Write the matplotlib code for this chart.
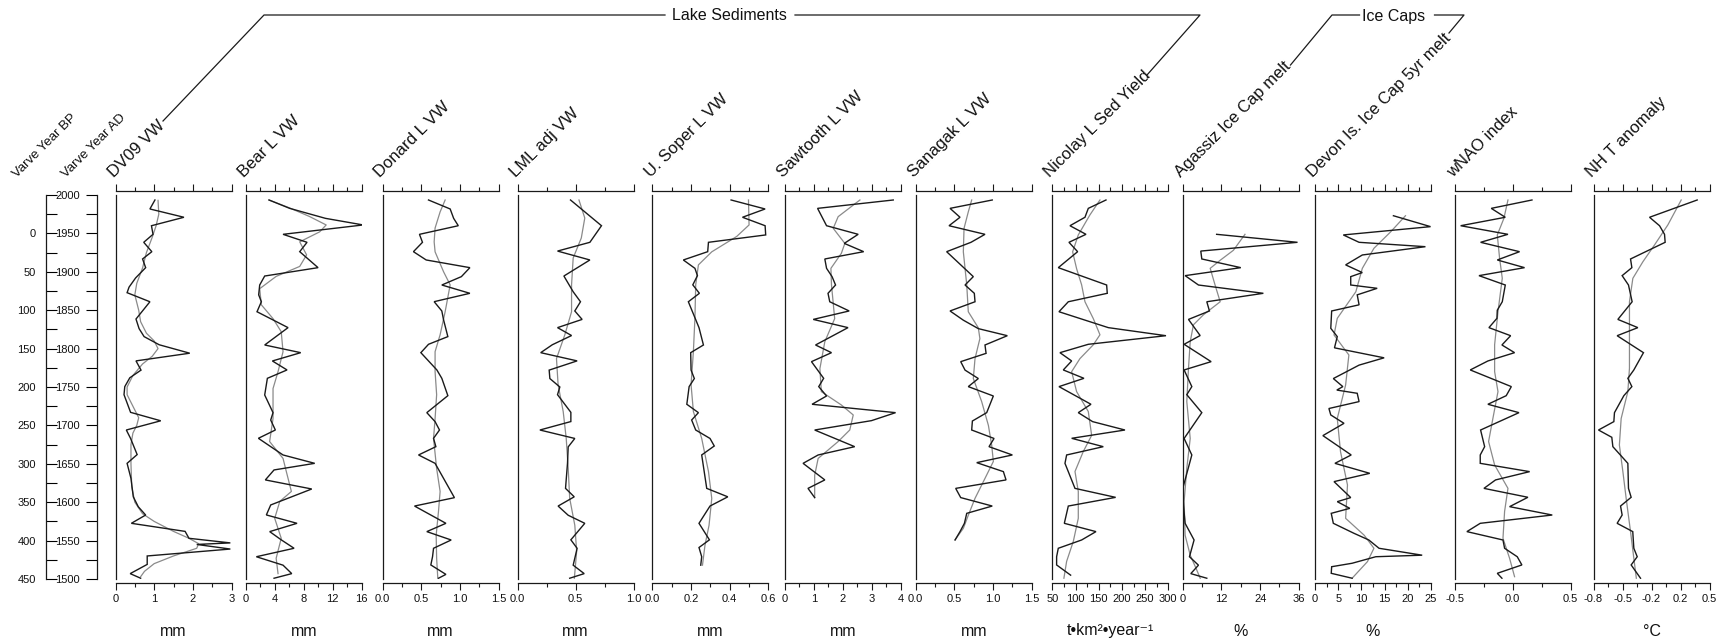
import matplotlib
matplotlib.use('Agg')
import matplotlib.pyplot as plt
from matplotlib.ticker import FixedLocator, FixedFormatter
from matplotlib.lines import Line2D

plt.rcParams['font.family'] = ['Liberation Sans', 'DejaVu Sans']

# ---------------- data ----------------
titles = ["DV09 VW", "Bear L VW", "Donard L VW", "LML adj VW", "U. Soper L VW",
          "Sawtooth L VW", "Sanagak L VW", "Nicolay L Sed Yield",
          "Agassiz Ice Cap melt", "Devon Is. Ice Cap 5yr melt", "wNAO index", "NH T anomaly"]
units = ["mm", "mm", "mm", "mm", "mm", "mm", "mm", "t\u2022km\u00b2\u2022year\u207b\u00b9", "%", "%", "", "\u00b0C"]

xlims = [(0, 3), (0, 16), (0, 1.5), (0, 1.0), (0, 0.6), (0, 4), (0, 1.5), (50, 300),
         (0, 36), (0, 25), (-0.5, 0.5), (-0.8, 0.5)]
major_ticks = [[0, 1, 2, 3], [0, 4, 8, 12, 16], [0, 0.5, 1.0, 1.5], [0, 0.5, 1.0],
               [0, 0.2, 0.4, 0.6], [0, 1, 2, 3, 4], [0, 0.5, 1.0, 1.5],
               [50, 100, 150, 200, 250, 300], [0, 12, 24, 36], [0, 5, 10, 15, 20, 25],
               [-0.5, 0.0, 0.5], [-0.8, -0.475, -0.15, 0.175, 0.5]]
tick_labels = [["0", "1", "2", "3"], ["0", "4", "8", "12", "16"], ["0.0", "0.5", "1.0", "1.5"],
               ["0.0", "0.5", "1.0"], ["0.0", "0.2", "0.4", "0.6"], ["0", "1", "2", "3", "4"],
               ["0.0", "0.5", "1.0", "1.5"], ["50", "100", "150", "200", "250", "300"],
               ["0", "12", "24", "36"], ["0", "5", "10", "15", "20", "25"],
               ["-0.5", "0.0", "0.5"], ["-0.8", "-0.5", "-0.2", "0.2", "0.5"]]
minor_ticks = [[0.5, 1.5, 2.5], [2, 6, 10, 14], [0.25, 0.75, 1.25], [0.25, 0.75],
               [0.1, 0.3, 0.5], [0.5, 1.5, 2.5, 3.5], [0.25, 0.75, 1.25],
               [75, 125, 175, 225, 275], [6, 18, 30], [2.5, 7.5, 12.5, 17.5, 22.5],
               [-0.25, 0.25], [-0.6375, -0.3125, 0.0125, 0.3375]]

dv09_year = [1993.5, 1981.8, 1971, 1960, 1948.8, 1938.4, 1926.2, 1916.7, 1905.4, 1892, 1880, 1872.8, 1861,
             1838.5, 1826, 1815.6, 1805, 1794, 1784, 1772, 1762, 1750.5, 1740, 1717, 1706, 1694, 1683,
             1662, 1650.6, 1631, 1607, 1594, 1583.3, 1572.5, 1562, 1553, 1547, 1545, 1539, 1530, 1519,
             1507, 1501]
dv09_raw = [1.02, 0.89, 1.77, 0.93, 0.97, 0.73, 0.94, 0.70, 0.78, 0.52, 0.35, 0.30, 0.89,
            0.53, 0.61, 0.74, 1.13, 1.92, 0.53, 0.66, 0.37, 0.24, 0.22, 0.39, 1.17, 0.28, 0.39,
            0.56, 0.30, 0.40, 0.46, 0.59, 0.78, 0.41, 1.80, 1.90, 2.97, 2.10, 2.97, 0.82, 0.82,
            0.38, 0.65]
dv09_syear = [1993, 1975, 1960, 1945, 1925, 1905, 1885, 1870, 1850, 1835, 1820, 1810, 1800, 1790, 1780,
              1765, 1750, 1740, 1725, 1710, 1700, 1690, 1675, 1650, 1620, 1600, 1585, 1575, 1562, 1553,
              1546, 1540, 1530, 1520, 1510, 1503]
dv09_smooth = [1.10, 1.12, 1.05, 0.95, 0.80, 0.70, 0.55, 0.50, 0.60, 0.65, 0.80, 1.00, 1.10, 0.95, 0.70,
               0.45, 0.30, 0.30, 0.45, 0.60, 0.55, 0.45, 0.40, 0.40, 0.42, 0.50, 0.70, 1.00, 1.50, 1.90,
               2.15, 2.10, 1.50, 1.00, 0.75, 0.65]

bear_year = [1993.5, 1982.6, 1969.6, 1961, 1948.8, 1938.4, 1926.2, 1905.4, 1894.5, 1882.8, 1870, 1861,
             1848, 1827.3, 1804.7, 1794.7, 1783.9, 1772.2, 1761.3, 1739.6, 1716.6, 1707, 1694, 1683.2,
             1661.5, 1650.6, 1642, 1629, 1617.2, 1596.4, 1583.4, 1572.5, 1561.7, 1551, 1540, 1529, 1518,
             1507, 1501]
bear_raw = [3.22, 6.07, 11.0, 16.2, 5.15, 8.46, 7.45, 9.98, 2.62, 1.93, 1.79, 2.16, 1.56, 5.84, 2.62,
            7.59, 3.68, 5.70, 2.99, 2.62, 3.77, 3.45, 4.09, 1.75, 5.15, 9.52, 3.91, 2.71, 9.11, 3.45,
            2.85, 7.08, 3.31, 4.9, 6.67, 1.47, 5.15, 6.35, 3.91]
bear_syear = [1993.5, 1983, 1972, 1961, 1952, 1939, 1922, 1907, 1894, 1878, 1857, 1839, 1822, 1796,
              1770, 1748, 1709, 1679, 1657, 1640, 1614, 1601, 1579, 1553, 1527, 1507]
bear_smooth = [3.2, 6.1, 8.8, 11.1, 10.2, 7.45, 8.4, 7.45, 4.2, 1.93, 2.16, 3.77, 4.9, 5.15, 4.46,
               3.77, 3.77, 3.3, 5.15, 5.6, 6.3, 4.7, 4.0, 4.9, 4.2, 4.46]

donard_year = [1993.5, 1981.8, 1969.6, 1960, 1948.8, 1938.4, 1926.2, 1915.4, 1905.4, 1893.7, 1882.8,
               1872, 1861.1, 1849, 1837.3, 1815.6, 1805.6, 1794.7, 1772.2, 1761.3, 1738.7, 1716.6,
               1704.9, 1694, 1683.2, 1672.3, 1661.5, 1650.6, 1605.9, 1595, 1572.5, 1561.7, 1550.8,
               1540, 1529, 1518.3, 1506, 1501]
donard_raw = [0.595, 0.875, 0.92, 0.98, 0.478, 0.517, 0.40, 0.565, 1.13, 1.02, 0.767, 1.13, 0.668,
              0.767, 0.79, 0.845, 0.595, 0.496, 0.703, 0.767, 0.845, 0.573, 0.68, 0.737, 0.66, 0.69,
              0.466, 0.68, 0.93, 0.414, 0.82, 0.573, 0.888, 0.66, 0.647, 0.625, 0.82, 0.724]
donard_syear = [1993.5, 1978, 1957, 1939, 1926, 1900, 1883, 1848, 1818, 1796, 1770, 1740, 1709, 1683,
                1644, 1614, 1588, 1557, 1527, 1501]
donard_smooth = [0.81, 0.745, 0.68, 0.668, 0.68, 0.79, 0.875, 0.81, 0.745, 0.68, 0.68, 0.70, 0.68,
                 0.66, 0.70, 0.745, 0.724, 0.694, 0.70, 0.715]

lml_year = [1993.5, 1960, 1938.4, 1927, 1915.4, 1894.5, 1874, 1861, 1849, 1838, 1827.3, 1817, 1805,
            1794.7, 1784, 1772, 1761, 1750, 1740, 1717, 1705, 1694, 1683, 1672, 1650.6, 1618, 1607,
            1595, 1583, 1572.5, 1551, 1540, 1518, 1507, 1501]
lml_raw = [0.457, 0.724, 0.624, 0.345, 0.624, 0.40, 0.48, 0.543, 0.494, 0.557, 0.345, 0.466, 0.30,
           0.20, 0.514, 0.273, 0.279, 0.365, 0.345, 0.46, 0.46, 0.193, 0.494, 0.437, 0.431, 0.414,
           0.489, 0.35, 0.437, 0.58, 0.46, 0.514, 0.48, 0.575, 0.45]
lml_syear = [1993.5, 1970, 1944, 1918, 1883, 1848, 1818, 1787, 1753, 1718, 1683, 1644, 1605, 1570,
             1536, 1501]
lml_smooth = [0.53, 0.58, 0.55, 0.48, 0.466, 0.466, 0.408, 0.336, 0.35, 0.394, 0.42, 0.437, 0.45,
              0.494, 0.51, 0.49]

soper_year = [1993.5, 1981.8, 1971, 1960, 1948, 1938.4, 1926.2, 1915.4, 1904.5, 1895, 1883, 1872,
              1861, 1827.3, 1804.7, 1794.7, 1772, 1761, 1750.5, 1727.5, 1716.6, 1707, 1694, 1683,
              1673.2, 1661.5, 1618, 1607, 1595, 1572.5, 1551, 1541, 1529, 1518]
soper_raw = [0.407, 0.583, 0.466, 0.583, 0.586, 0.29, 0.286, 0.16, 0.22, 0.233, 0.209, 0.243, 0.186,
             0.241, 0.264, 0.198, 0.20, 0.217, 0.19, 0.178, 0.238, 0.203, 0.224, 0.298, 0.32, 0.255,
             0.281, 0.39, 0.298, 0.241, 0.295, 0.241, 0.255, 0.25]
soper_syear = [1993.5, 1961, 1946, 1926, 1909, 1883, 1840, 1796, 1753, 1718, 1683, 1640, 1605, 1570,
               1544, 1518]
soper_smooth = [0.497, 0.50, 0.436, 0.307, 0.238, 0.224, 0.22, 0.212, 0.20, 0.212, 0.255, 0.29, 0.307,
                0.293, 0.272, 0.259]

saw_year = [1993.5, 1982.6, 1960, 1948.8, 1937, 1926.2, 1916.7, 1904.5, 1893.7, 1882.8, 1872, 1861,
            1849, 1838, 1827.3, 1804.7, 1794.7, 1783, 1761.3, 1750.5, 1738.3, 1727.5, 1716.6, 1706.2,
            1694, 1672.3, 1661.5, 1650.6, 1629, 1618, 1606]
saw_raw = [3.74, 1.13, 1.44, 2.53, 2.05, 2.72, 1.38, 1.44, 1.63, 1.75, 1.49, 1.55, 2.22, 0.98, 2.18,
           1.06, 1.61, 0.92, 1.34, 1.17, 1.44, 0.94, 3.82, 2.99, 1.03, 2.41, 1.15, 0.63, 1.38, 0.80,
           1.03]
saw_syear = [1993.5, 1971.8, 1956.6, 1937, 1924, 1904.5, 1883, 1839, 1809, 1774, 1744, 1726.6,
             1713.6, 1694, 1679, 1657, 1635, 1606]
saw_smooth = [2.59, 1.84, 1.67, 2.07, 1.95, 1.59, 1.61, 1.72, 1.38, 1.21, 1.26, 1.95, 2.36, 2.24,
              1.84, 1.15, 1.03, 1.03]

sana_year = [1993.5, 1982.6, 1971, 1960, 1948.8, 1938.4, 1926.2, 1893.7, 1882.8, 1872, 1861, 1849,
             1837, 1826, 1816.8, 1804.7, 1793.8, 1783, 1772, 1761, 1750.5, 1738.3, 1716.6, 1705.7,
             1694, 1683, 1672.3, 1661.5, 1651.5, 1639.8, 1629, 1618, 1606, 1595, 1585.5, 1572.5,
             1561.7, 1550.8]
sana_raw = [0.99, 0.444, 0.573, 0.431, 0.896, 0.715, 0.40, 0.745, 0.638, 0.758, 0.767, 0.444, 0.616,
            0.81, 1.185, 0.896, 0.91, 0.582, 0.638, 0.81, 0.68, 1.004, 0.918, 0.733, 0.724, 1.013,
            0.948, 1.25, 0.789, 1.134, 1.168, 0.517, 0.582, 0.99, 0.66, 0.63, 0.573, 0.509]
sana_syear = [1993.5, 1978, 1956.6, 1926, 1883, 1848, 1827, 1813, 1787, 1761, 1731, 1700, 1674, 1653,
              1631, 1605, 1583, 1566, 1551]
sana_smooth = [0.724, 0.68, 0.625, 0.616, 0.66, 0.68, 0.81, 0.83, 0.767, 0.745, 0.853, 0.94, 0.983,
               1.004, 0.896, 0.767, 0.68, 0.616, 0.509]

nico_year = [1993.5, 1982.6, 1971, 1960, 1948.8, 1938.4, 1926.2, 1905.4, 1882.8, 1872, 1861, 1848,
             1827.3, 1816.8, 1805.6, 1794.7, 1783.9, 1772.2, 1761.3, 1750.5, 1727.5, 1716.6, 1704.9,
             1694, 1683.2, 1672.3, 1661.5, 1650.6, 1618, 1606.3, 1595, 1572.5, 1561.7, 1550.8, 1540,
             1529, 1518.3, 1505]
nico_raw = [165.7, 127.6, 120.4, 88.1, 122.6, 85.9, 104.6, 62.9, 167.1, 168.5, 84.5, 64.4, 170.7,
            295, 127.6, 66.5, 91.7, 73.7, 118.2, 64.4, 133.3, 106, 136.9, 206.6, 91.7, 159.9, 80.9,
            77.3, 98.9, 186.5, 84.5, 75.9, 144.1, 113.2, 62.9, 59.3, 59.3, 89.5]
nico_syear = [1993.5, 1974, 1948, 1926, 1904, 1883, 1861, 1839, 1818, 1805, 1787, 1770, 1744, 1718,
              1687, 1666, 1640, 1614, 1579, 1549, 1523, 1501]
nico_smooth = [152.7, 131, 106, 93.8, 102.4, 113.2, 120.4, 138.4, 152.7, 138.4, 109.6, 91.7, 102.4,
               127.6, 134.8, 116.8, 98.9, 106, 106, 95.3, 80.9, 75]

agas_year = [1948.8, 1938.4, 1927, 1916.7, 1905.4, 1895, 1882.8, 1872, 1861, 1849, 1838, 1817,
             1805.6, 1783, 1772.2, 1750.5, 1740, 1716.6, 1683, 1661.5, 1618, 1596, 1572.5, 1550.8,
             1529, 1518, 1507, 1501]
agas_raw = [10.5, 35.6, 5.58, 5.9, 18.0, 0.72, 4.86, 25.0, 7.45, 8.27, 1.76, 5.38, 0.41, 8.79, 0.41,
            2.8, 1.24, 5.9, 0.41, 2.8, 0.0, 0.2, 0.72, 3.5, 2.07, 4.86, 2.48, 7.45]
agas_syear = [1948.8, 1928, 1915, 1904.5, 1883, 1861, 1844, 1831, 1809, 1774, 1731, 1683, 1644, 1601,
              1557, 1531, 1514, 1501]
agas_smooth = [19.3, 15.7, 11.6, 8.5, 10.0, 11.6, 6.4, 3.3, 2.3, 1.76, 1.24, 2.3, 1.24, 0.41, 0.72,
               2.3, 4.1, 5.4]

devon_year = [1973, 1958.8, 1948, 1938.4, 1932.7, 1921.9, 1909, 1899, 1893.7, 1882.8, 1878.5, 1870,
              1857, 1849, 1826.4, 1815.6, 1801, 1788, 1778.5, 1761, 1750.5, 1746, 1741.8, 1731, 1722,
              1713.6, 1702.7, 1686.7, 1661.5, 1650.6, 1637.6, 1626.8, 1606, 1600.7, 1592, 1585.5,
              1572.5, 1559.5, 1550.8, 1540, 1531, 1529, 1520.5, 1516, 1507.4, 1501]
devon_raw = [16.9, 24.9, 6.1, 9.5, 23.8, 10.2, 6.6, 10.2, 7.7, 7.7, 13.4, 9.1, 9.5, 3.59, 3.4, 4.8,
             4.2, 14.9, 9.5, 3.95, 6.0, 4.7, 9.1, 9.5, 3.0, 3.4, 6.25, 1.7, 7.8, 4.3, 11.8, 4.1, 7.7,
             4.8, 7.5, 3.5, 3.95, 8.4, 11.6, 13.8, 23.1, 13.1, 8.0, 3.59, 3.5, 8.0]
devon_syear = [1973, 1952, 1930.6, 1904.5, 1874, 1839.4, 1817.7, 1791.7, 1752.6, 1709, 1665.8, 1622.4,
               1579, 1557, 1540, 1522.6, 1501]
devon_smooth = [19.5, 16.3, 12.7, 10.2, 8.8, 4.8, 4.1, 7.3, 6.6, 4.8, 5.5, 7.0, 6.6, 10.6, 12.7, 11.3,
                8.0]

nao_year = [1993.5, 1982.6, 1971, 1960, 1948.8, 1938.4, 1926.2, 1915.4, 1905.4, 1895, 1882.8, 1861,
            1850, 1839.4, 1827.3, 1816.8, 1804.7, 1794.7, 1783.9, 1772.2, 1750.5, 1738.7, 1727.5,
            1716.6, 1694, 1672.3, 1661.5, 1650.6, 1639.8, 1629, 1618, 1606.4, 1594.2, 1583.3, 1572.5,
            1561.7, 1550.8, 1540, 1529, 1518.3, 1507.4, 1501]
nao_raw = [0.167, -0.184, -0.063, -0.448, -0.04, -0.276, 0.06, -0.132, 0.103, -0.29, -0.063, -0.089,
           -0.132, -0.135, -0.204, -0.017, -0.092, 0.017, -0.213, -0.365, -0.011, -0.055, -0.213,
           0.055, -0.276, -0.241, -0.279, -0.279, 0.147, -0.147, -0.247, 0.132, -0.026, 0.342,
           -0.279, -0.394, -0.083, -0.069, 0.04, 0.08, -0.132, -0.092]
nao_syear = [1993.5, 1969.6, 1948, 1917.5, 1891.5, 1848, 1805, 1770, 1744, 1709, 1679, 1648.5, 1618,
             1588, 1553, 1527, 1503]
nao_smooth = [-0.04, -0.075, -0.132, -0.112, -0.089, -0.126, -0.155, -0.155, -0.126, -0.17, -0.207,
              -0.155, -0.04, -0.069, -0.083, -0.026, 0.017]

nht_year = [1993.5, 1971, 1960, 1948.8, 1938.4, 1916.7, 1905.4, 1895, 1882.8, 1861, 1838, 1827.3,
            1816.8, 1794.7, 1772.2, 1761.3, 1750.5, 1738.7, 1716.6, 1704.9, 1694, 1684.5, 1672.3,
            1650.6, 1618, 1606.4, 1595, 1583.3, 1572.5, 1561.7, 1540, 1529, 1518.3, 1501]
nht_raw = [0.362, -0.172, -0.06, -0.004, 0.003, -0.385, -0.37, -0.479, -0.408, -0.367, -0.527,
           -0.303, -0.535, -0.24, -0.348, -0.415, -0.37, -0.46, -0.565, -0.572, -0.744, -0.595,
           -0.583, -0.415, -0.408, -0.378, -0.497, -0.479, -0.535, -0.36, -0.348, -0.31, -0.378,
           -0.273]
nht_syear = [1993.5, 1961, 1935, 1913, 1891.5, 1861, 1818, 1774.5, 1744, 1709, 1674.5, 1640, 1605,
             1561.7, 1527, 1501]
nht_smooth = [0.183, 0.033, -0.116, -0.247, -0.359, -0.397, -0.397, -0.397, -0.415, -0.49, -0.51,
              -0.471, -0.434, -0.385, -0.348, -0.32]

raw_series = [(dv09_year, dv09_raw), (bear_year, bear_raw), (donard_year, donard_raw),
              (lml_year, lml_raw), (soper_year, soper_raw), (saw_year, saw_raw),
              (sana_year, sana_raw), (nico_year, nico_raw), (agas_year, agas_raw),
              (devon_year, devon_raw), (nao_year, nao_raw), (nht_year, nht_raw)]
smooth_series = [(dv09_syear, dv09_smooth), (bear_syear, bear_smooth), (donard_syear, donard_smooth),
                 (lml_syear, lml_smooth), (soper_syear, soper_smooth), (saw_syear, saw_smooth),
                 (sana_syear, sana_smooth), (nico_syear, nico_smooth), (agas_syear, agas_smooth),
                 (devon_syear, devon_smooth), (nao_syear, nao_smooth), (nht_syear, nht_smooth)]

ad_major = [1500, 1550, 1600, 1650, 1700, 1750, 1800, 1850, 1900, 1950, 2000]
ad_minor = [1525, 1575, 1625, 1675, 1725, 1775, 1825, 1875, 1925, 1975]
bp_major = [1500, 1550, 1600, 1650, 1700, 1750, 1800, 1850, 1900, 1950]
bp_labels = ["450", "400", "350", "300", "250", "200", "150", "100", "50", "0"]
bp_minor = [1525, 1575, 1625, 1675, 1725, 1775, 1825, 1875, 1925, 1975, 2000]

# ---------------- layout ----------------
W, H = 1722, 639
fig = plt.figure(figsize=(W / 100, H / 100), dpi=100)


def fx(px):
    return px / W


def fy(py):
    return 1 - py / H


TOP, BOT = 195, 579
PW = 116
lefts = [115.5, 245.7, 382.5, 517.5, 652.4, 784.8, 915.7, 1052.3, 1182.8, 1315.0, 1454.6, 1593.5]
AX_H = (BOT - TOP) / H
TXT = '#111111'

for i in range(12):
    ax = fig.add_axes([fx(lefts[i]), fy(BOT), fx(PW), AX_H])
    ax.patch.set_visible(False)
    ax.set_xlim(*xlims[i])
    ax.set_ylim(1500, 2000)
    sy, sv = smooth_series[i]
    ry, rv = raw_series[i]
    ax.plot(sv, sy, color='#8a8a8a', lw=0.9, solid_joinstyle='round')
    ax.plot(rv, ry, color='#1a1a1a', lw=1.0, solid_joinstyle='miter')
    ax.spines['right'].set_visible(False)
    ax.spines['top'].set_position(('outward', 3))
    ax.spines['bottom'].set_position(('outward', 3))
    for s in ['left', 'top', 'bottom']:
        ax.spines[s].set_linewidth(0.9)
        ax.spines[s].set_color('#1a1a1a')
    ax.set_yticks([])
    ax.xaxis.set_major_locator(FixedLocator(major_ticks[i]))
    ax.xaxis.set_major_formatter(FixedFormatter(tick_labels[i]))
    ax.xaxis.set_minor_locator(FixedLocator(minor_ticks[i]))
    ax.tick_params(axis='x', which='both', top=True, bottom=True, labeltop=False,
                   direction='out', width=0.8, color='#1a1a1a')
    ax.tick_params(axis='x', which='major', length=5, labelsize=8, pad=3, labelcolor=TXT)
    ax.tick_params(axis='x', which='minor', length=3)
    fig.text(fx(lefts[i] - 2), fy(178), titles[i], rotation=45, rotation_mode='anchor',
             ha='left', va='baseline', fontsize=12, color=TXT)
    if units[i]:
        fig.text(fx(lefts[i] + PW / 2), fy(631), units[i], ha='center', va='center',
                 fontsize=11.5, color=TXT)

# left year axes
axbp = fig.add_axes([fx(45.7), fy(BOT), 0.00001, AX_H])
axad = fig.add_axes([fx(96.7), fy(BOT), 0.00001, AX_H])
for a in (axbp, axad):
    a.patch.set_visible(False)
    a.set_ylim(1500, 2000)
    a.set_xticks([])
    for s in ['top', 'right', 'bottom']:
        a.spines[s].set_visible(False)
    a.spines['left'].set_linewidth(0.9)
    a.spines['left'].set_color('#1a1a1a')
axbp.yaxis.set_major_locator(FixedLocator(bp_major))
axbp.yaxis.set_major_formatter(FixedFormatter(bp_labels))
axbp.yaxis.set_minor_locator(FixedLocator(bp_minor))
axbp.tick_params(axis='y', which='both', direction='in', length=8, width=0.8, labelsize=8, pad=7,
                 labelcolor=TXT)
axad.yaxis.set_major_locator(FixedLocator(ad_major))
axad.yaxis.set_major_formatter(FixedFormatter([str(v) for v in ad_major]))
axad.yaxis.set_minor_locator(FixedLocator(ad_minor))
axad.tick_params(axis='y', which='both', direction='out', length=8, width=0.8, labelsize=8, pad=4,
                 labelcolor=TXT)

fig.text(fx(17), fy(178), "Varve Year BP", rotation=45, rotation_mode='anchor', ha='left',
         va='baseline', fontsize=9.5, color=TXT)
fig.text(fx(66), fy(178), "Varve Year AD", rotation=45, rotation_mode='anchor', ha='left',
         va='baseline', fontsize=9.5, color=TXT)

# group brackets
LY = 15
lk = dict(color='#1a1a1a', lw=0.9)
fig.add_artist(Line2D([fx(163), fx(264), fx(665)], [fy(121), fy(LY), fy(LY)], **lk))
fig.add_artist(Line2D([fx(795), fx(1200), fx(1147)], [fy(LY), fy(LY), fy(75)], **lk))
fig.text(fx(729), fy(LY + 1), "Lake Sediments", ha='center', va='center', fontsize=11.5, color=TXT)
fig.add_artist(Line2D([fx(1290.5), fx(1332), fx(1359.5)], [fy(65), fy(LY), fy(LY)], **lk))
fig.add_artist(Line2D([fx(1434.5), fx(1464), fx(1449)], [fy(LY), fy(LY), fy(33)], **lk))
fig.text(fx(1394), fy(LY + 1), "Ice Caps", ha='center', va='center', fontsize=11.5, color=TXT)

fig.savefig('out.png', dpi=100)
